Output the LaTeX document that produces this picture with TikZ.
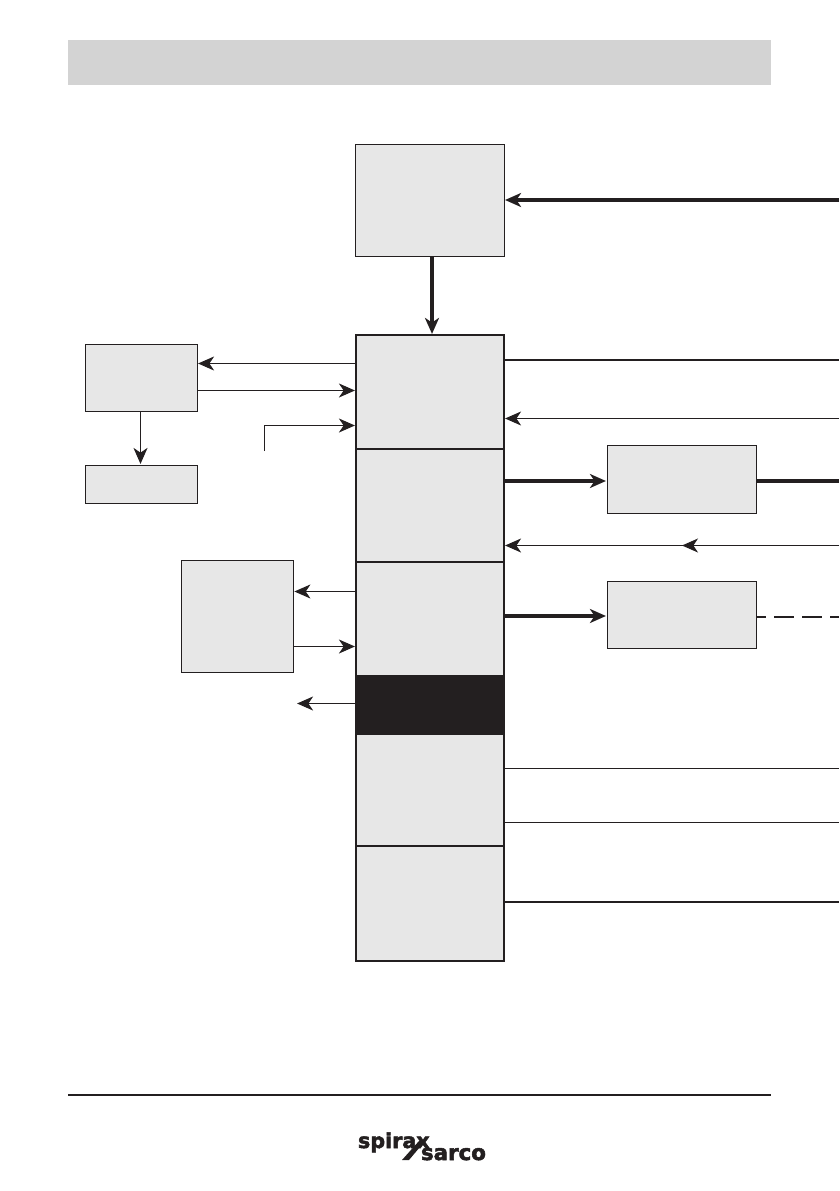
\documentclass[tikz,border=0pt]{standalone}
\usepackage{fontspec}
\setmainfont{DejaVu Sans}
\newfontfamily\logofont[BoldFeatures={FakeBold=2.5}]{DejaVu Sans}
\usetikzlibrary{arrows.meta}
\definecolor{ink}{HTML}{231F20}
\definecolor{boxfill}{HTML}{E7E7E7}
\definecolor{band}{HTML}{D3D3D3}
\tikzset{
  x=0.75pt,y=-0.75pt,
  tipa/.tip={Stealth[length=12pt,width=10.5pt,inset=3.5pt]},
  box/.style={draw=ink,fill=boxfill,line width=0.65pt,inner sep=0pt,outer sep=0pt,anchor=north west},
  stackbox/.style={draw=ink,fill=boxfill,line width=1.4pt,inner sep=0pt,outer sep=0pt,anchor=north west,minimum width=111pt},
  thin line/.style={draw=ink,line width=0.85pt},
  mid line/.style={draw=ink,line width=1.3pt},
  thick line/.style={draw=ink,line width=2.6pt},
  arrowthin/.style={thin line,-{tipa},shorten >=0.8pt},
  arrowthick/.style={thick line,-{tipa},shorten >=0.8pt},
  logotext/.style={inner sep=0pt,outer sep=0pt,text=ink},
}
\begin{document}
\begin{tikzpicture}
\useasboundingbox (0,0) rectangle (839,1191);
% header band and footer rule
\node[fill=band,inner sep=0pt,outer sep=0pt,anchor=north west,minimum width=527.25pt,minimum height=33.75pt] (header) at (68,40) {};
\coordinate (footL) at (68,1095);
\coordinate (footR) at (771,1095);
\draw[draw=ink,line width=1.3pt] (footL) -- (footR);
% boxes
\node[box,minimum width=111.75pt,minimum height=84.5pt] (top) at (355,144) {};
\node[stackbox,minimum height=85.5pt] (s1) at (356,335) {};
\node[stackbox,minimum height=84.75pt] (s2) at (356,449) {};
\node[stackbox,minimum height=85.5pt] (s3) at (356,562) {};
\node[stackbox,minimum height=43.5pt,fill=ink] (s4) at (356,676) {};
\node[stackbox,minimum height=84pt] (s5) at (356,734) {};
\node[stackbox,minimum height=86.25pt] (s6) at (356,846) {};
\node[box,minimum width=84pt,minimum height=50.25pt] (la) at (85,344) {};
\node[box,minimum width=84pt,minimum height=28.5pt] (lb) at (85,465) {};
\node[box,minimum width=84.25pt,minimum height=84.5pt] (lc) at (181,560) {};
\node[box,minimum width=111.75pt,minimum height=51.25pt] (ra) at (607,445) {};
\node[box,minimum width=111.75pt,minimum height=50.5pt] (rb) at (607,581) {};
% free ends
\coordinate (e200) at (839,200);
\coordinate (e360) at (839,360);
\coordinate (e418) at (839,418.5);
\coordinate (e481) at (839,481);
\coordinate (e545) at (839,545.5);
\coordinate (mid545) at (682,545.5);
\coordinate (e617) at (839,617);
\coordinate (e768) at (839,768.5);
\coordinate (e822) at (839,822.5);
\coordinate (e902) at (839,902);
\coordinate (sens) at (264.5,451);
\coordinate (senscorner) at (264.5,425.5);
\coordinate (y363) at (300,363.5);
\coordinate (y390) at (300,390.5);
\coordinate (y591) at (320,591.5);
\coordinate (y647) at (320,646.5);
\coordinate (dark) at (296,703.5);
\coordinate (x432) at (432,300);
\coordinate (x140) at (140.5,440);
\coordinate (y481) at (550,481);
\coordinate (y616) at (550,616);
% right side
\draw[arrowthick] (e200) -- (e200 -| top.east);
\draw[arrowthick] (x432 |- top.south) -- (x432 |- s1.north);
\draw[thin line] (e360 -| s1.east) -- (e360);
\draw[arrowthin] (e418) -- (e418 -| s1.east);
\draw[arrowthick] (y481 -| s2.east) -- (y481 -| ra.west);
\draw[thick line] (e481 -| ra.east) -- (e481);
\draw[arrowthin] (e545) -- (e545 -| s2.east);
\draw[arrowthin,shorten >=0pt] (e545) -- (mid545);
\draw[arrowthick] (y616 -| s3.east) -- (y616 -| rb.west);
\draw[draw=ink,line width=1.5pt,dash pattern=on 15pt off 6pt,dash phase=7.5pt] (e617 -| rb.east) -- (e617);
\draw[thin line] (e768 -| s5.east) -- (e768);
\draw[thin line] (e822 -| s5.east) -- (e822);
\draw[mid line] (e902 -| s6.east) -- (e902);
% left side
\draw[arrowthin] (y363 -| s1.west) -- (y363 -| la.east);
\draw[arrowthin] (y390 -| la.east) -- (y390 -| s1.west);
\draw[arrowthin] (sens) -- (senscorner) -- (senscorner -| s1.west);
\draw[arrowthin] (x140 |- la.south) -- (x140 |- lb.north);
\draw[arrowthin] (y591 -| s3.west) -- (y591 -| lc.east);
\draw[arrowthin] (y647 -| lc.east) -- (y647 -| s3.west);
\draw[arrowthin] (dark -| s4.west) -- (dark);
% logo
\node[logotext,font=\logofont\fontsize{15.5pt}{15.5pt}\selectfont\bfseries,anchor=base west] (spirax) at (358,1148) {spirax};
\node[logotext,font=\logofont\fontsize{16pt}{16pt}\selectfont\bfseries,anchor=base west] (sarco) at (421,1160) {sarco};
\fill[ink] (402,1160) -- (409,1160) -- (425,1141) -- (419,1141) -- cycle;
\end{tikzpicture}
\end{document}
